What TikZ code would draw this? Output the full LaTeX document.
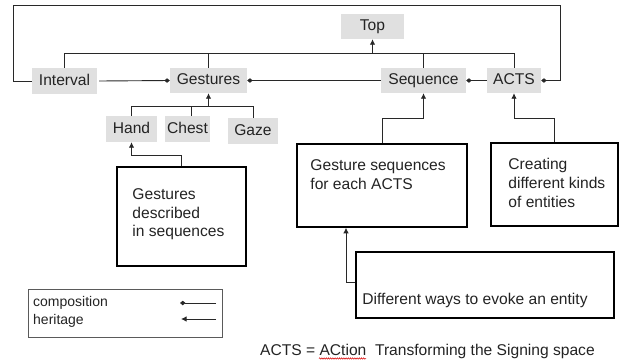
\documentclass[tikz,border=0pt]{standalone}
\usepackage{fontspec}
\setmainfont{Liberation Sans}
\usetikzlibrary{arrows.meta,decorations.pathmorphing}
\definecolor{boxgray}{RGB}{224,224,224}
\definecolor{ink}{RGB}{35,35,35}
\definecolor{linec}{RGB}{40,40,40}
\definecolor{leggray}{RGB}{90,90,90}
\begin{document}
\begin{tikzpicture}[x=1pt,y=-1pt,
  cls/.style={fill=boxgray, draw=none, inner sep=0pt, text=ink,
    font=\fontsize{15.6}{18}\selectfont, text height=11pt, text depth=3pt},
  tbox/.style={draw=black, line width=1.5pt, inner sep=0pt},
  txt/.style={inner sep=0pt, align=left, anchor=north west, text=ink,
    font=\fontsize{15.6}{18.8}\selectfont},
  legtxt/.style={inner sep=0pt, anchor=base west, text=ink,
    font=\fontsize{14}{16}\selectfont},
  conn/.style={draw=linec, line width=0.9pt},
  inh/.style={conn, -{Latex[length=5.5pt,width=5.5pt]}},
  comp/.style={conn, -{Diamond[length=5.5pt,width=4.5pt]}},
]
\useasboundingbox (0,0) rectangle (621,362);

% class boxes
\node[cls, minimum width=63pt, minimum height=25pt] (top) at (372.5,26.5) {Top};
\node[cls, minimum width=65pt, minimum height=26pt] (interval) at (64.5,81) {Interval};
\node[cls, minimum width=77pt, minimum height=25pt] (gestures) at (208.5,80.5) {Gestures};
\node[cls, minimum width=85pt, minimum height=25pt] (sequence) at (423.5,80.5) {Sequence};
\node[cls, minimum width=54pt, minimum height=25pt] (acts) at (514,80.5) {ACTS};
\node[cls, minimum width=51pt, minimum height=26pt] (hand) at (131.5,129) {Hand};
\node[cls, minimum width=45pt, minimum height=26pt] (chest) at (187.5,129) {Chest};
\node[cls, minimum width=50pt, minimum height=26pt] (gaze) at (253,131) {Gaze};

% comment boxes
\node[tbox, minimum width=129pt, minimum height=99pt] (gdesc) at (181.5,216.5) {};
\node[tbox, minimum width=170pt, minimum height=83pt] (gseq) at (382,185.5) {};
\node[tbox, minimum width=127pt, minimum height=83pt] (creating) at (554.5,184.5) {};
\node[tbox, minimum width=258pt, minimum height=66pt] (diff) at (485,285) {};

\node[txt] (gdesct) at ([xshift=16pt,yshift=-22pt]gdesc.north west) {Gestures\\described\\in sequences};
\node[txt] (gseqt) at ([xshift=14pt,yshift=-16.5pt]gseq.north west) {Gesture sequences\\for each ACTS};
\node[txt] (creatingt) at ([xshift=18pt,yshift=-16pt]creating.north west) {Creating\\different kinds\\of entities};
\node[txt, anchor=base west] (difft) at ([xshift=7pt,yshift=-53.7pt]diff.north west) {Different ways to evoke an entity};

% bus to Top
\coordinate (busY) at (0,53);
\draw[conn] (interval.north) -- (interval.north |- busY) -- (acts.north |- busY) -- (acts.north);
\draw[conn] (gestures.north) -- (gestures.north |- busY);
\draw[conn] (sequence.north) -- (sequence.north |- busY);
\draw[inh] (top.south |- busY) -- (top.south);

% outer loop
\coordinate (loopA) at (13,5);
\coordinate (loopB) at (560,5);
\draw[comp] (interval.west) -| (loopA) -- (loopB) |- (acts.east);

% composition links
\draw[comp] ([xshift=2pt]interval.east) -- (gestures.west);
\draw[comp] (sequence.west) -- (gestures.east);
\draw[comp] (acts.west) -- (sequence.east);

% body parts bus
\coordinate (bus2) at (0,106);
\draw[conn] (hand.north) -- (hand.north |- bus2) -- (gaze.north |- bus2) -- (gaze.north);
\draw[conn] ([xshift=4pt]chest.north) -- ([xshift=4pt]chest.north |- bus2);
\draw[inh] (gestures.south |- bus2) -- (gestures.south);

% comment links
\draw[inh] (gdesc.north) -- (gdesc.north |- 0,155) -| (hand.south);
\draw[inh] (gseq.north) -- (gseq.north |- 0,118) -| (sequence.south);
\draw[inh] (creating.north) -- (creating.north |- 0,118) -| (acts.south);
\draw[inh] (diff.west |- 0,282) -| ([xshift=-36pt]gseq.south);

% legend
\node[draw=leggray, line width=0.8pt, minimum width=194pt, minimum height=48pt, inner sep=0pt] (legend) at (125,313) {};
\node[legtxt] (lcomp) at (33,306.5) {composition};
\node[legtxt] (lher) at (33,324) {heritage};
\coordinate (c1) at (216,303);
\coordinate (c2) at (180,303);
\coordinate (h1) at (216,319);
\coordinate (h2) at (181,319);
\draw[comp] (c1) -- (c2);
\draw[inh] (h1) -- (h2);

% note
\node[inner sep=0pt, anchor=base west, text=ink, font=\fontsize{15.6}{18}\selectfont] (note) at (260,355) {ACTS = ACtion\ \ Transforming the Signing space};
\draw[red!85!black, line width=0.5pt, decorate, decoration={snake, amplitude=0.7pt, segment length=2.2pt}]
  ([xshift=59pt,yshift=-3.5pt]note.base west) -- ([xshift=106pt,yshift=-3.5pt]note.base west);
\end{tikzpicture}
\end{document}
